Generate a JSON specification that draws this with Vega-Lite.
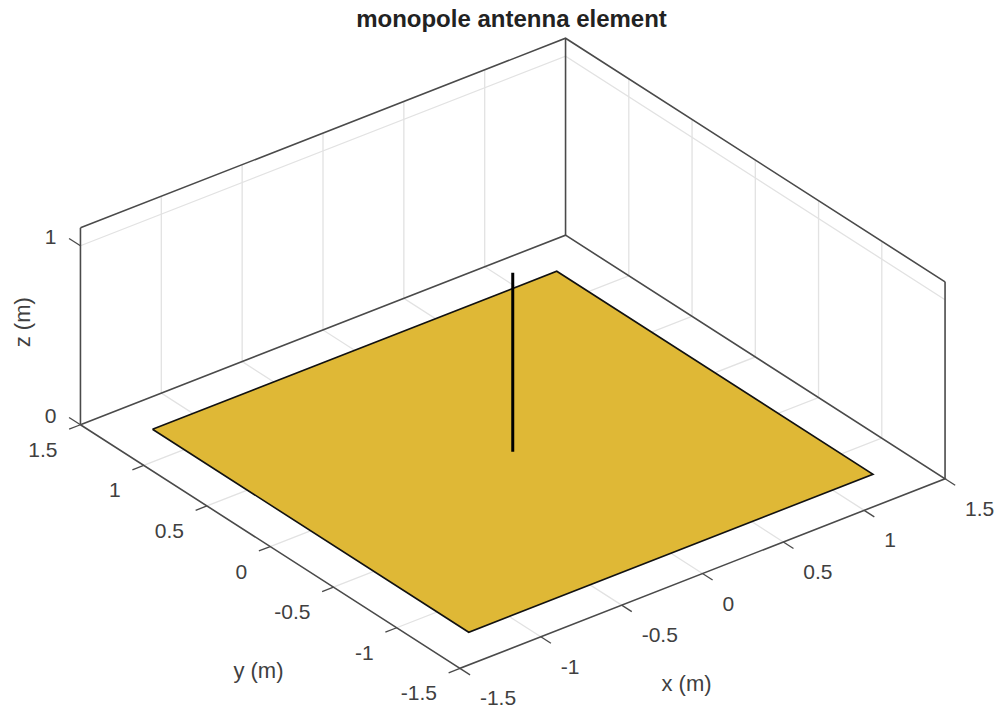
{"$schema":"https://vega.github.io/schema/vega-lite/v6.json","width":1001,"height":709,"padding":0,"autosize":{"type":"none"},
"title":{"text":"monopole antenna element","anchor":"middle","dx":11,"offset":-32,"font":"Liberation Sans","fontSize":24,"fontWeight":"bold","color":"#222222"},
"config":{"view":{"stroke":null},"axis":{"disable":true},"text":{"font":"Liberation Sans"}},
"data":{"values":[
{"part":"grid","id":"x-1","i":0,"x":-1,"y":-1.5,"z":0},{"part":"grid","id":"x-1","i":1,"x":-1,"y":1.5,"z":0},{"part":"grid","id":"x-1","i":2,"x":-1,"y":1.5,"z":1.1},
{"part":"grid","id":"x-.5","i":0,"x":-0.5,"y":-1.5,"z":0},{"part":"grid","id":"x-.5","i":1,"x":-0.5,"y":1.5,"z":0},{"part":"grid","id":"x-.5","i":2,"x":-0.5,"y":1.5,"z":1.1},
{"part":"grid","id":"x0","i":0,"x":0,"y":-1.5,"z":0},{"part":"grid","id":"x0","i":1,"x":0,"y":1.5,"z":0},{"part":"grid","id":"x0","i":2,"x":0,"y":1.5,"z":1.1},
{"part":"grid","id":"x.5","i":0,"x":0.5,"y":-1.5,"z":0},{"part":"grid","id":"x.5","i":1,"x":0.5,"y":1.5,"z":0},{"part":"grid","id":"x.5","i":2,"x":0.5,"y":1.5,"z":1.1},
{"part":"grid","id":"x1","i":0,"x":1,"y":-1.5,"z":0},{"part":"grid","id":"x1","i":1,"x":1,"y":1.5,"z":0},{"part":"grid","id":"x1","i":2,"x":1,"y":1.5,"z":1.1},
{"part":"grid","id":"y-1","i":0,"x":-1.5,"y":-1,"z":0},{"part":"grid","id":"y-1","i":1,"x":1.5,"y":-1,"z":0},{"part":"grid","id":"y-1","i":2,"x":1.5,"y":-1,"z":1.1},
{"part":"grid","id":"y-.5","i":0,"x":-1.5,"y":-0.5,"z":0},{"part":"grid","id":"y-.5","i":1,"x":1.5,"y":-0.5,"z":0},{"part":"grid","id":"y-.5","i":2,"x":1.5,"y":-0.5,"z":1.1},
{"part":"grid","id":"y0","i":0,"x":-1.5,"y":0,"z":0},{"part":"grid","id":"y0","i":1,"x":1.5,"y":0,"z":0},{"part":"grid","id":"y0","i":2,"x":1.5,"y":0,"z":1.1},
{"part":"grid","id":"y.5","i":0,"x":-1.5,"y":0.5,"z":0},{"part":"grid","id":"y.5","i":1,"x":1.5,"y":0.5,"z":0},{"part":"grid","id":"y.5","i":2,"x":1.5,"y":0.5,"z":1.1},
{"part":"grid","id":"y1","i":0,"x":-1.5,"y":1,"z":0},{"part":"grid","id":"y1","i":1,"x":1.5,"y":1,"z":0},{"part":"grid","id":"y1","i":2,"x":1.5,"y":1,"z":1.1},
{"part":"grid","id":"z1","i":0,"x":-1.5,"y":1.5,"z":1},{"part":"grid","id":"z1","i":1,"x":1.5,"y":1.5,"z":1},{"part":"grid","id":"z1","i":2,"x":1.5,"y":-1.5,"z":1},
{"part":"box","id":"floor","i":0,"x":-1.5,"y":1.5,"z":0},{"part":"box","id":"floor","i":1,"x":-1.5,"y":-1.5,"z":0},{"part":"box","id":"floor","i":2,"x":1.5,"y":-1.5,"z":0},{"part":"box","id":"floor","i":3,"x":1.5,"y":1.5,"z":0},{"part":"box","id":"floor","i":4,"x":-1.5,"y":1.5,"z":0},
{"part":"box","id":"top","i":0,"x":-1.5,"y":1.5,"z":1.1},{"part":"box","id":"top","i":1,"x":1.5,"y":1.5,"z":1.1},{"part":"box","id":"top","i":2,"x":1.5,"y":-1.5,"z":1.1},
{"part":"box","id":"vL","i":0,"x":-1.5,"y":1.5,"z":0},{"part":"box","id":"vL","i":1,"x":-1.5,"y":1.5,"z":1.1},
{"part":"box","id":"vB","i":0,"x":1.5,"y":1.5,"z":0},{"part":"box","id":"vB","i":1,"x":1.5,"y":1.5,"z":1.1},
{"part":"box","id":"vR","i":0,"x":1.5,"y":-1.5,"z":0},{"part":"box","id":"vR","i":1,"x":1.5,"y":-1.5,"z":1.1},
{"part":"tick","id":"tx1","i":0,"x":-1.5,"y":-1.5,"z":0},{"part":"tick","id":"tx1","i":1,"x":-1.5,"y":-1.58,"z":0},
{"part":"tick","id":"tx2","i":0,"x":-1,"y":-1.5,"z":0},{"part":"tick","id":"tx2","i":1,"x":-1,"y":-1.58,"z":0},
{"part":"tick","id":"tx3","i":0,"x":-0.5,"y":-1.5,"z":0},{"part":"tick","id":"tx3","i":1,"x":-0.5,"y":-1.58,"z":0},
{"part":"tick","id":"tx4","i":0,"x":0,"y":-1.5,"z":0},{"part":"tick","id":"tx4","i":1,"x":0,"y":-1.58,"z":0},
{"part":"tick","id":"tx5","i":0,"x":0.5,"y":-1.5,"z":0},{"part":"tick","id":"tx5","i":1,"x":0.5,"y":-1.58,"z":0},
{"part":"tick","id":"tx6","i":0,"x":1,"y":-1.5,"z":0},{"part":"tick","id":"tx6","i":1,"x":1,"y":-1.58,"z":0},
{"part":"tick","id":"tx7","i":0,"x":1.5,"y":-1.5,"z":0},{"part":"tick","id":"tx7","i":1,"x":1.5,"y":-1.58,"z":0},
{"part":"tick","id":"ty1","i":0,"x":-1.5,"y":-1.5,"z":0},{"part":"tick","id":"ty1","i":1,"x":-1.57,"y":-1.5,"z":0},
{"part":"tick","id":"ty2","i":0,"x":-1.5,"y":-1,"z":0},{"part":"tick","id":"ty2","i":1,"x":-1.57,"y":-1,"z":0},
{"part":"tick","id":"ty3","i":0,"x":-1.5,"y":-0.5,"z":0},{"part":"tick","id":"ty3","i":1,"x":-1.57,"y":-0.5,"z":0},
{"part":"tick","id":"ty4","i":0,"x":-1.5,"y":0,"z":0},{"part":"tick","id":"ty4","i":1,"x":-1.57,"y":0,"z":0},
{"part":"tick","id":"ty5","i":0,"x":-1.5,"y":0.5,"z":0},{"part":"tick","id":"ty5","i":1,"x":-1.57,"y":0.5,"z":0},
{"part":"tick","id":"ty6","i":0,"x":-1.5,"y":1,"z":0},{"part":"tick","id":"ty6","i":1,"x":-1.57,"y":1,"z":0},
{"part":"tick","id":"ty7","i":0,"x":-1.5,"y":1.5,"z":0},{"part":"tick","id":"ty7","i":1,"x":-1.57,"y":1.5,"z":0},
{"part":"tick","id":"tz0","i":0,"x":-1.5,"y":1.5,"z":0},{"part":"tick","id":"tz0","i":1,"x":-1.5,"y":1.59,"z":0},
{"part":"tick","id":"tz1","i":0,"x":-1.5,"y":1.5,"z":1},{"part":"tick","id":"tz1","i":1,"x":-1.5,"y":1.59,"z":1},
{"part":"plate","id":"plate","i":0,"x":-1.25,"y":1.25,"z":0},{"part":"plate","id":"plate","i":1,"x":-1.25,"y":-1.25,"z":0},{"part":"plate","id":"plate","i":2,"x":1.25,"y":-1.25,"z":0},{"part":"plate","id":"plate","i":3,"x":1.25,"y":1.25,"z":0},{"part":"plate","id":"plate","i":4,"x":-1.25,"y":1.25,"z":0},
{"part":"mono","id":"mono","i":0,"x":0,"y":0,"z":0},{"part":"mono","id":"mono","i":1,"x":0,"y":0,"z":1},
{"part":"xlab","text":"-1.5","x":-1.5,"y":-1.5,"z":0},{"part":"xlab","text":"-1","x":-1,"y":-1.5,"z":0},{"part":"xlab","text":"-0.5","x":-0.5,"y":-1.5,"z":0},{"part":"xlab","text":"0","x":0,"y":-1.5,"z":0},{"part":"xlab","text":"0.5","x":0.5,"y":-1.5,"z":0},{"part":"xlab","text":"1","x":1,"y":-1.5,"z":0},{"part":"xlab","text":"1.5","x":1.5,"y":-1.5,"z":0},
{"part":"ylab","text":"-1.5","x":-1.5,"y":-1.5,"z":0},{"part":"ylab","text":"-1","x":-1.5,"y":-1,"z":0},{"part":"ylab","text":"-0.5","x":-1.5,"y":-0.5,"z":0},{"part":"ylab","text":"0","x":-1.5,"y":0,"z":0},{"part":"ylab","text":"0.5","x":-1.5,"y":0.5,"z":0},{"part":"ylab","text":"1","x":-1.5,"y":1,"z":0},{"part":"ylab","text":"1.5","x":-1.5,"y":1.5,"z":0},
{"part":"zlab","text":"0","x":-1.5,"y":1.5,"z":0},{"part":"zlab","text":"1","x":-1.5,"y":1.5,"z":1},
{"part":"xtitle","text":"x (m)","x":0,"y":-1.5,"z":0},{"part":"ytitle","text":"y (m)","x":-1.5,"y":-0.5,"z":0},{"part":"ztitle","text":"z (m)","x":-1.5,"y":1.5,"z":0.5}
]},
"transform":[{"calculate":"512.75+161.7*datum.x-126.5*datum.y","as":"sx"},{"calculate":"451.75-63.2*datum.x-81.2*datum.y-179*datum.z","as":"sy"}],
"encoding":{"x":{"field":"sx","type":"quantitative","scale":{"domain":[0,1001],"nice":false,"zero":false},"axis":null},"y":{"field":"sy","type":"quantitative","scale":{"domain":[709,0],"nice":false,"zero":false},"axis":null}},
"layer":[
{"transform":[{"filter":"datum.part==='grid'"}],"mark":{"type":"line","stroke":"#e2e2e2","strokeWidth":1.3,"clip":false},"encoding":{"detail":{"field":"id"},"order":{"field":"i"}}},
{"transform":[{"filter":"datum.part==='box'"}],"mark":{"type":"line","stroke":"#4a4a4a","strokeWidth":1.6},"encoding":{"detail":{"field":"id"},"order":{"field":"i"}}},
{"transform":[{"filter":"datum.part==='tick'"}],"mark":{"type":"line","stroke":"#4a4a4a","strokeWidth":1.3},"encoding":{"detail":{"field":"id"},"order":{"field":"i"}}},
{"transform":[{"filter":"datum.part==='plate'"}],"mark":{"type":"line","fill":"#dfb836","stroke":"#111111","strokeWidth":1.6},"encoding":{"order":{"field":"i"}}},
{"transform":[{"filter":"datum.part==='mono'"}],"mark":{"type":"line","stroke":"#000000","strokeWidth":3},"encoding":{"order":{"field":"i"}}},
{"transform":[{"filter":"datum.part==='xlab'"}],"mark":{"type":"text","align":"left","baseline":"middle","dx":20,"dy":31,"fontSize":21,"fill":"#404040"},"encoding":{"text":{"field":"text"}}},
{"transform":[{"filter":"datum.part==='ylab'"}],"mark":{"type":"text","align":"right","baseline":"middle","dx":-23,"dy":26,"fontSize":21,"fill":"#404040"},"encoding":{"text":{"field":"text"}}},
{"transform":[{"filter":"datum.part==='zlab'"}],"mark":{"type":"text","align":"right","baseline":"middle","dx":-24,"dy":-8,"fontSize":21,"fill":"#404040"},"encoding":{"text":{"field":"text"}}},
{"transform":[{"filter":"datum.part==='xtitle'"}],"mark":{"type":"text","align":"center","baseline":"middle","dx":-16,"dy":110,"fontSize":22,"fill":"#404040"},"encoding":{"text":{"field":"text"}}},
{"transform":[{"filter":"datum.part==='ytitle'"}],"mark":{"type":"text","align":"center","baseline":"middle","dx":-75,"dy":84,"fontSize":22,"fill":"#404040"},"encoding":{"text":{"field":"text"}}},
{"transform":[{"filter":"datum.part==='ztitle'"}],"mark":{"type":"text","align":"center","baseline":"middle","angle":270,"dx":13,"dy":-57,"fontSize":22,"fill":"#404040"},"encoding":{"text":{"field":"text"}}}
]}
